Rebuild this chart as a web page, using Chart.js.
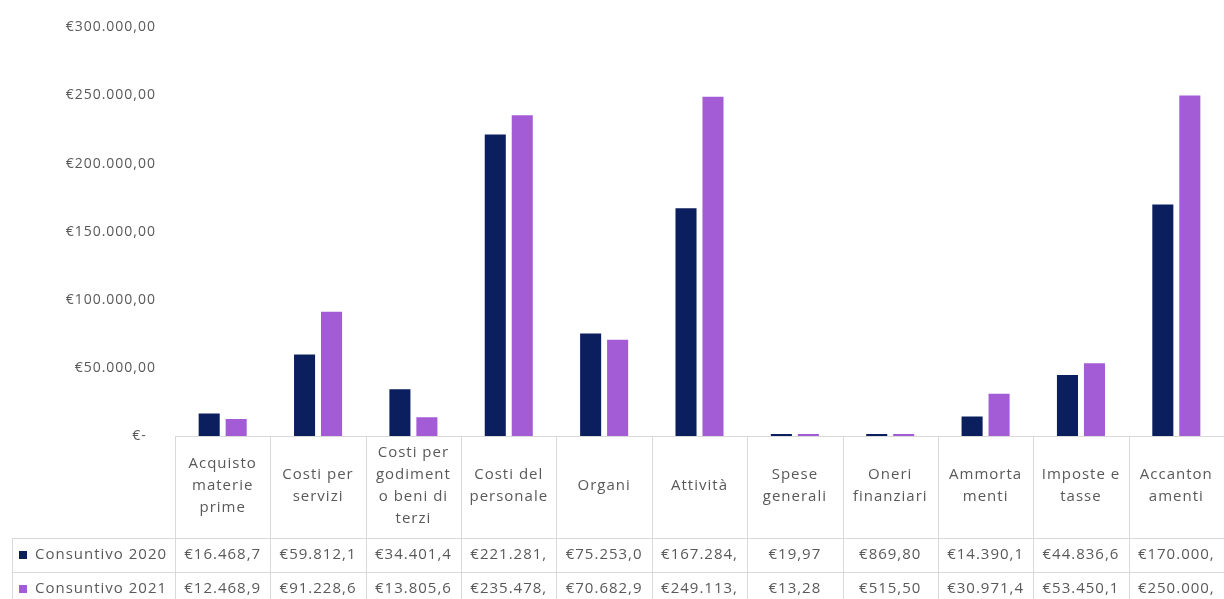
<!DOCTYPE html>
<html lang="it">
<head>
<meta charset="utf-8">
<title>Consuntivo 2020 / 2021</title>
<script src="https://cdn.jsdelivr.net/npm/chart.js@4.4.1/dist/chart.umd.min.js"></script>
<style>
  html, body { margin: 0; padding: 0; background: #ffffff; }
  #wrap { position: relative; width: 1224px; height: 599px; }
</style>
</head>
<body>
<div id="wrap"><canvas id="chart"></canvas></div>
<script>
// Cost categories (already split into the lines shown in the table header)
const categories = [
  ['Acquisto', 'materie', 'prime'],
  ['Costi per', 'servizi'],
  ['Costi per', 'godiment', 'o beni di', 'terzi'],
  ['Costi del', 'personale'],
  ['Organi'],
  ['Attività'],
  ['Spese', 'generali'],
  ['Oneri', 'finanziari'],
  ['Ammorta', 'menti'],
  ['Imposte e', 'tasse'],
  ['Accanton', 'amenti']
];

const seriesNames = ['Consuntivo 2020', 'Consuntivo 2021'];

const consuntivo2020 = [16468.70, 59812.10, 34401.40, 221281.00, 75253.00, 167284.00, 19.97, 869.80, 14390.10, 44836.60, 170000.00];
const consuntivo2021 = [12468.90, 91228.60, 13805.60, 235478.00, 70682.90, 249113.00, 13.28, 515.50, 30971.40, 53450.10, 250000.00];

const yTickValues = [0, 50000, 100000, 150000, 200000, 250000, 300000];

const seriesColors = ['#0b1f5e', '#a35bd6'];
const textColor = '#595959';
const borderColor = '#d9d9d9';
const cellChars = 9; // narrow table cells only show this many characters

function groupThousands(intPart) {
  return intPart.replace(/\B(?=(\d{3})+(?!\d))/g, '.');
}
function euro(v, decimals) {
  const fixed = Math.abs(v).toFixed(decimals);
  const parts = fixed.split('.');
  return '€' + groupThousands(parts[0]) + (parts[1] ? ',' + parts[1] : '');
}

// Draws the data table under the plot area
const dataTablePlugin = {
  id: 'dataTable',
  beforeDraw(chart) {
    chart.ctx.letterSpacing = '1px';
  },
  afterDraw(chart) {
    const { ctx, chartArea, scales } = chart;
    const x = scales.x;
    const n = categories.length;
    const colW = x.getPixelForValue(1) - x.getPixelForValue(0);
    const top = Math.round(chartArea.bottom);
    const headerBottom = top + 102;
    const rowH = 34;
    const tableLeft = 12;
    const W = chart.width, H = chart.height;

    ctx.save();
    ctx.letterSpacing = '1px';
    ctx.strokeStyle = borderColor;
    ctx.lineWidth = 1;

    // horizontal rules
    ctx.beginPath();
    ctx.moveTo(chartArea.left, top + 0.5);
    ctx.lineTo(W, top + 0.5);
    for (let r = 0; r <= seriesNames.length; r++) {
      const y = headerBottom + r * rowH + 0.5;
      ctx.moveTo(tableLeft, y);
      ctx.lineTo(W, y);
    }
    // vertical rules
    for (let i = 0; i <= n; i++) {
      const xx = Math.round(x.getPixelForValue(i) - colW / 2) + 0.5;
      ctx.moveTo(xx, top);
      ctx.lineTo(xx, H);
    }
    ctx.moveTo(tableLeft + 0.5, headerBottom);
    ctx.lineTo(tableLeft + 0.5, H);
    ctx.stroke();

    // header: category names
    ctx.fillStyle = textColor;
    ctx.font = '15px "Open Sans"';
    ctx.textAlign = 'center';
    ctx.textBaseline = 'middle';
    const lineH = 22;
    const headerMid = (top + headerBottom) / 2 - 1;
    categories.forEach((lines, i) => {
      const cx = x.getPixelForValue(i);
      const y0 = headerMid - (lines.length - 1) * lineH / 2;
      lines.forEach((t, k) => ctx.fillText(t, cx, y0 + k * lineH));
    });

    // data rows
    const series = [consuntivo2020, consuntivo2021];
    series.forEach((vals, r) => {
      const cy = headerBottom + r * rowH + 17;
      // row label with colour key
      ctx.fillStyle = seriesColors[r];
      ctx.fillRect(19, cy - 4, 8, 8);
      ctx.fillStyle = textColor;
      ctx.textAlign = 'left';
      ctx.fillText(seriesNames[r], 35, cy);
      ctx.textAlign = 'center';
      vals.forEach((v, i) => {
        const txt = euro(v, 2).slice(0, cellChars);
        ctx.fillText(txt, x.getPixelForValue(i), cy);
      });
    });
    ctx.restore();
  }
};

new Chart(document.getElementById('chart'), {
  type: 'bar',
  data: {
    labels: categories,
    datasets: [
      {
        label: seriesNames[0],
        data: consuntivo2020,
        backgroundColor: seriesColors[0],
        categoryPercentage: 0.566,
        barPercentage: 0.78,
        minBarLength: 2
      },
      {
        label: seriesNames[1],
        data: consuntivo2021,
        backgroundColor: seriesColors[1],
        categoryPercentage: 0.566,
        barPercentage: 0.78,
        minBarLength: 2
      }
    ]
  },
  options: {
    responsive: true,
    maintainAspectRatio: false,
    animation: false,
    events: [],
    layout: { padding: { top: 23, bottom: 163, left: 0, right: 0 } },
    plugins: {
      legend: { display: false },
      tooltip: { enabled: false }
    },
    scales: {
      x: {
        display: false,
        offset: true
      },
      y: {
        min: 0,
        max: 300000,
        afterBuildTicks(scale) {
          scale.ticks = yTickValues.map(v => ({ value: v }));
        },
        afterFit(scale) { scale.width = 175; },
        grid: { display: false, drawTicks: false },
        border: { display: false },
        ticks: {
          padding: 19,
          color: textColor,
          font: { family: '"Open Sans"', size: 14 },
          callback: v => (v === 0 ? '€-  ' : euro(v, 2))
        }
      }
    }
  },
  plugins: [dataTablePlugin]
});
</script>
</body>
</html>
